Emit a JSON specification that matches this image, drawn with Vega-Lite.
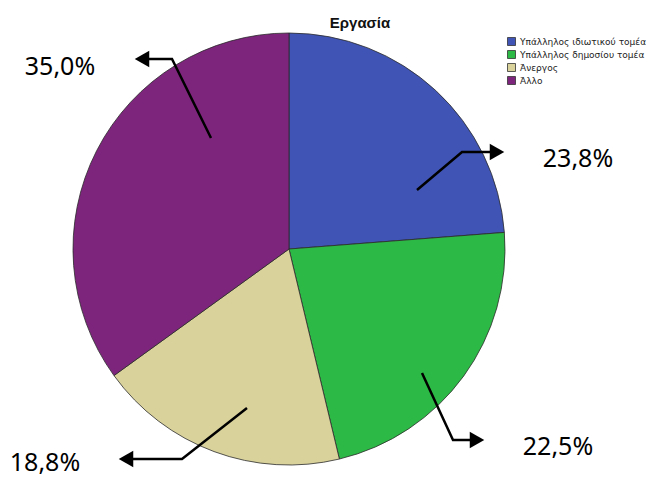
{
  "$schema": "https://vega.github.io/schema/vega-lite/v6.json",
  "width": 578,
  "height": 458,
  "padding": {"left": 0, "top": 20, "right": 68, "bottom": 0},
  "autosize": {"type": "none"},
  "background": "white",
  "config": {"view": {"stroke": null}},
  "datasets": {
    "pie": [
      {"idx": 1, "cat": "Υπάλληλος ιδιωτικού τομέα", "pct": 23.8},
      {"idx": 2, "cat": "Υπάλληλος δημοσίου τομέα", "pct": 22.5},
      {"idx": 3, "cat": "Άνεργος", "pct": 18.8},
      {"idx": 4, "cat": "Άλλο", "pct": 35.0}
    ],
    "arrows": [
      {"arrow": "a", "seq": 0, "x": 211, "y": 138},
      {"arrow": "a", "seq": 1, "x": 172, "y": 59},
      {"arrow": "a", "seq": 2, "x": 142, "y": 59},
      {"arrow": "b", "seq": 0, "x": 417, "y": 190},
      {"arrow": "b", "seq": 1, "x": 462, "y": 152},
      {"arrow": "b", "seq": 2, "x": 497, "y": 152},
      {"arrow": "c", "seq": 0, "x": 422, "y": 373},
      {"arrow": "c", "seq": 1, "x": 453, "y": 440},
      {"arrow": "c", "seq": 2, "x": 477, "y": 440},
      {"arrow": "d", "seq": 0, "x": 247, "y": 408},
      {"arrow": "d", "seq": 1, "x": 182, "y": 459},
      {"arrow": "d", "seq": 2, "x": 126, "y": 459}
    ],
    "heads": [
      {"arrow": "a", "dir": "left", "x": 142, "y": 59},
      {"arrow": "b", "dir": "right", "x": 497, "y": 152},
      {"arrow": "c", "dir": "right", "x": 477, "y": 440},
      {"arrow": "d", "dir": "left", "x": 126, "y": 459}
    ],
    "labels": [
      {"text": "35,0%", "x": 60, "y": 75},
      {"text": "23,8%", "x": 578, "y": 167},
      {"text": "22,5%", "x": 558, "y": 455},
      {"text": "18,8%", "x": 45, "y": 471}
    ],
    "title": [
      {"text": "Εργασία", "x": 360, "y": 28}
    ]
  },
  "layer": [
    {
      "data": {"name": "pie"},
      "mark": {"type": "arc", "outerRadius": 216, "stroke": "#2b2b2b", "strokeWidth": 0.8},
      "encoding": {
        "theta": {"field": "pct", "type": "quantitative", "stack": true},
        "order": {"field": "idx", "type": "quantitative"},
        "color": {
          "field": "cat",
          "type": "nominal",
          "scale": {
            "domain": ["Υπάλληλος ιδιωτικού τομέα", "Υπάλληλος δημοσίου τομέα", "Άνεργος", "Άλλο"],
            "range": ["#3f54b4", "#2db945", "#d9d29b", "#7d247c"]
          },
          "legend": {
            "title": null,
            "orient": "none",
            "legendX": 507,
            "legendY": 17,
            "symbolType": "square",
            "symbolSize": 64,
            "symbolStrokeColor": "#333333",
            "symbolStrokeWidth": 0.8,
            "labelFont": "DejaVu Sans",
            "labelFontSize": 9,
            "labelColor": "#222222",
            "labelOffset": 4,
            "labelLimit": 200,
            "rowPadding": 0,
            "padding": 0
          }
        }
      }
    },
    {
      "data": {"name": "arrows"},
      "mark": {"type": "line", "color": "black", "strokeWidth": 2.5, "strokeJoin": "miter"},
      "encoding": {
        "x": {"field": "x", "type": "quantitative", "scale": {"domain": [0, 578], "nice": false, "zero": false}, "axis": null},
        "y": {"field": "y", "type": "quantitative", "scale": {"domain": [20, 478], "nice": false, "zero": false, "reverse": true}, "axis": null},
        "detail": {"field": "arrow"},
        "order": {"field": "seq", "type": "quantitative"}
      }
    },
    {
      "data": {"name": "heads"},
      "mark": {"type": "point", "filled": true, "color": "black", "opacity": 1, "size": 280},
      "encoding": {
        "x": {"field": "x", "type": "quantitative"},
        "y": {"field": "y", "type": "quantitative"},
        "shape": {
          "field": "dir",
          "type": "nominal",
          "scale": {"domain": ["left", "right"], "range": ["triangle-left", "triangle-right"]},
          "legend": null
        }
      }
    },
    {
      "data": {"name": "labels"},
      "mark": {"type": "text", "font": "Noto Sans", "fontSize": 25, "align": "center", "baseline": "alphabetic", "color": "black"},
      "encoding": {
        "x": {"field": "x", "type": "quantitative"},
        "y": {"field": "y", "type": "quantitative"},
        "text": {"field": "text"}
      }
    },
    {
      "data": {"name": "title"},
      "mark": {"type": "text", "font": "Liberation Sans", "fontSize": 15, "fontWeight": "bold", "align": "center", "baseline": "alphabetic", "color": "#111111"},
      "encoding": {
        "x": {"field": "x", "type": "quantitative"},
        "y": {"field": "y", "type": "quantitative"},
        "text": {"field": "text"}
      }
    }
  ]
}
